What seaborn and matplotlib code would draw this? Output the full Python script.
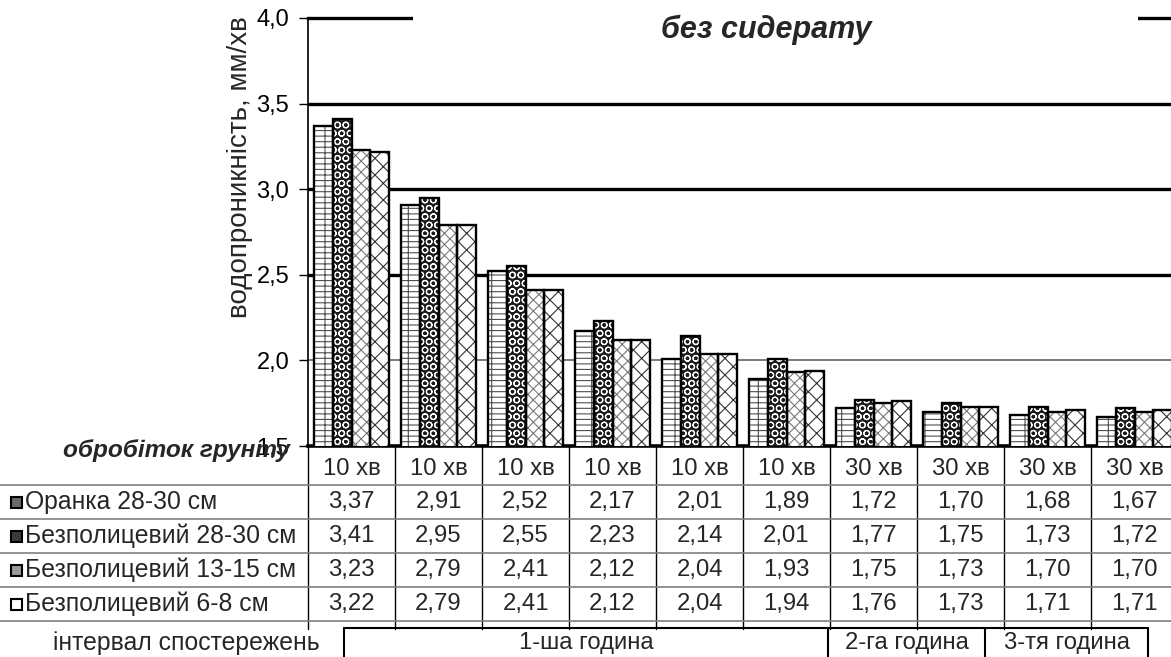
import numpy as np
import pandas as pd
import matplotlib
matplotlib.use('Agg')
import matplotlib.pyplot as plt
import matplotlib.transforms as mtransforms
from matplotlib.patches import Rectangle
from matplotlib.lines import Line2D
import seaborn as sns

# values (data table under the bars)
intervals = ['10 хв'] * 6 + ['30 хв'] * 4
hours = ['1-ша година', '2-га година', '3-тя година']
treatments = ['Оранка 28-30 см', 'Безполицевий 28-30 см',
              'Безполицевий 13-15 см', 'Безполицевий 6-8 см']
oranka = [3.37, 2.91, 2.52, 2.17, 2.01, 1.89, 1.72, 1.70, 1.68, 1.67]
bezpol_28 = [3.41, 2.95, 2.55, 2.23, 2.14, 2.01, 1.77, 1.75, 1.73, 1.72]
bezpol_13 = [3.23, 2.79, 2.41, 2.12, 2.04, 1.93, 1.75, 1.73, 1.70, 1.70]
bezpol_6 = [3.22, 2.79, 2.41, 2.12, 2.04, 1.94, 1.76, 1.73, 1.71, 1.71]
y_ticks = [1.5, 2.0, 2.5, 3.0, 3.5, 4.0]

series = [oranka, bezpol_28, bezpol_13, bezpol_6]
df = pd.DataFrame({
    'obs': np.tile(np.arange(len(intervals)), len(treatments)),
    'treatment': np.repeat(treatments, len(intervals)),
    'value': np.concatenate(series),
})

W, H = 1171, 657
FS = 17.2

def fy(py):
    # pixel row -> figure fraction
    return 1 - py / H

sns.set_theme(style='white')
plt.rcParams['font.family'] = ['Liberation Sans', 'DejaVu Sans']
plt.rcParams['hatch.linewidth'] = 0.8

fig = plt.figure(figsize=(W / 100, H / 100), dpi=100)
ax = fig.add_axes([308 / W, fy(446), 870 / W, 428 / H])

sns.barplot(data=df, x='obs', y='value', hue='treatment', hue_order=treatments,
            width=0.86, gap=0, errorbar=None, legend=False, ax=ax, zorder=3)

# bar fill / hatch / hatch colour per treatment
styles = [('white', '---|', '#505050'),
          ('#1c1c1c', 'OO', 'white'),
          ('white', 'xxx', '#7a7a7a'),
          ('white', 'xx', '#333333')]
legend_fc = ['#6a6a6a', '#3a3a3a', '#9a9a9a', 'white']
for cont, (fc, hatch, hc) in zip(ax.containers, styles):
    for bar in cont:
        bar.set_facecolor(fc)
        bar.set_hatch(hatch)
        bar.set_edgecolor(hc)
        bar.set_linewidth(0)
        ax.add_patch(Rectangle(bar.get_xy(), bar.get_width(), bar.get_height(),
                               fill=False, ec='black', lw=1.7, zorder=4))

for t in y_ticks[1:-1]:
    thin = t == 2.0
    ax.axhline(t, color='#707070' if thin else 'black', lw=1.3 if thin else 2.4, zorder=1)

ax.set_xlim(-0.5, len(intervals) - 0.5)
ax.set_ylim(y_ticks[0], y_ticks[-1])
ax.set_yticks(y_ticks)
ax.set_yticklabels([f'{t:.1f}'.replace('.', ',') for t in y_ticks], fontsize=17)
ax.tick_params(axis='y', left=True, length=6.5, width=1, direction='out', pad=7,
               colors='black')
ax.set_xticks([])
ax.set_xlabel('')
ax.set_ylabel('')
ax.spines['right'].set_visible(False)
ax.spines['top'].set_linewidth(2.4)
ax.spines['top'].set_color('black')
ax.spines['left'].set_linewidth(1.2)
ax.spines['left'].set_color('black')
ax.spines['bottom'].set_linewidth(2.6)
ax.spines['bottom'].set_color('black')

# title sits on a white strip that hides the top line
fig.add_artist(Rectangle((413 / W, fy(27)), (1138 - 413) / W, 17 / H,
                         transform=fig.transFigure, fc='white', ec='none', zorder=5))
fig.text(766 / W, fy(30), 'без сидерату', fontsize=22, fontweight='bold',
         style='italic', ha='center', va='center', zorder=6)
fig.text(240 / W, fy(167), 'водопроникність, мм/хв', rotation=90,
         ha='center', va='center', fontsize=20)
fig.text(290 / W, fy(451), 'обробіток грунту', fontsize=17.6, fontweight='bold',
         style='italic', ha='right', va='center')

# data table below the axis
trans = mtransforms.blended_transform_factory(ax.transData, fig.transFigure)
for i, lab in enumerate(intervals):
    ax.text(i, fy(469), lab, transform=trans, ha='center', va='center',
            fontsize=FS, clip_on=False)

row_centers = [502, 536, 570, 604]
for name, vals, yc, mfc in zip(treatments, series, row_centers, legend_fc):
    for i, v in enumerate(vals):
        ax.text(i, fy(yc), f'{v:.2f}'.replace('.', ','), transform=trans,
                ha='center', va='center', fontsize=FS, clip_on=False)
    fig.add_artist(Rectangle((11 / W, fy(yc + 6)), 11 / W, 11 / H, transform=fig.transFigure,
                             fc=mfc, ec='black', lw=1.5))
    fig.text(25 / W, fy(yc), name, ha='left', va='center', fontsize=17.8)

for yl in [485, 519, 553, 587, 621]:
    fig.add_artist(Line2D([0, 1], [fy(yl)] * 2, transform=fig.transFigure,
                          color='#808080', lw=1.2))
for i in range(len(intervals) + 1):
    ax.add_line(Line2D([i - 0.5] * 2, [fy(446), fy(629)], transform=trans,
                       color='black', lw=1, clip_on=False))

# observation hour groups
fig.text(186 / W, fy(643), 'інтервал спостережень', ha='center', va='center', fontsize=17.8)
hour_edges = [344, 828, 985, 1148]
fig.add_artist(Line2D([hour_edges[0] / W, hour_edges[-1] / W], [fy(628)] * 2,
                      transform=fig.transFigure, color='black', lw=1.5))
for x in hour_edges:
    fig.add_artist(Line2D([x / W] * 2, [fy(628), 0], transform=fig.transFigure,
                          color='black', lw=1.5))
for lab, x0, x1 in zip(hours, hour_edges[:-1], hour_edges[1:]):
    fig.text((x0 + x1) / 2 / W, fy(643), lab, ha='center', va='center', fontsize=FS)

fig.savefig('out.png', dpi=100)
